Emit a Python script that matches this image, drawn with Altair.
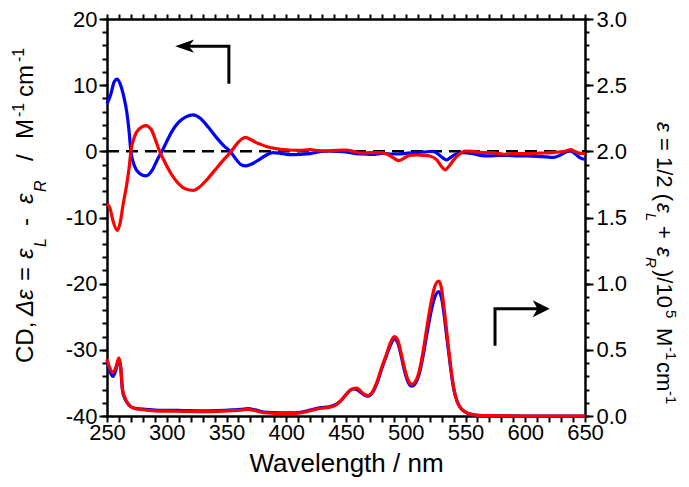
import altair as alt
import pandas as pd

# ---------------- data ----------------
cd_blue_wl = [250, 253, 256, 258.5, 261, 264, 266.5, 268.5, 270, 273, 277, 282.5, 288, 292, 296, 300, 305, 310, 316, 322,
              328, 335, 342, 348, 353, 358, 362, 366, 370, 376, 382, 389, 395, 400, 405, 412, 420, 427, 434, 442,
              450, 458, 465, 472, 480, 487, 494, 500, 508, 515, 523, 527, 531, 534, 537, 541, 548, 555, 562, 570,
              578, 586, 594, 602, 610, 618, 624, 630, 634, 638, 642, 646, 650]
cd_blue = [7.2, 8.5, 10.5, 10.9, 10.2, 8.3, 6.0, 3.0, 0.0, -2.2, -3.3, -3.7, -2.8, -1.3, 0.0, 1.5, 3.2, 4.4, 5.2, 5.5,
           5.0, 3.6, 2.0, 0.8, 0.0, -1.2, -2.0, -2.2, -2.0, -1.4, -0.7, -0.2, -0.3, -0.45, -0.5, -0.45, -0.35, -0.1, 0.05, 0.0,
           -0.1, -0.35, -0.4, -0.45, -0.3, -0.4, -0.4, -0.3, -0.2, -0.1, 0.0, -0.4, -1.0, -1.3, -1.0, -0.5, -0.2, -0.3, -0.6, -0.7,
           -0.6, -0.6, -0.7, -0.7, -0.75, -0.85, -0.9, -0.5, -0.1, 0.05, -0.4, -1.0, -1.2]

cd_red_wl = [250, 252.5, 255, 258.5, 261, 263.5, 266.5, 268.5, 270, 273, 277, 282.5, 287, 291, 294, 298, 304, 310, 316, 322,
             328, 334, 340, 347, 354, 359, 363, 366, 370, 374, 378, 384, 390, 395, 402, 411, 420, 427, 434, 442,
             450, 456, 462, 470, 478, 484, 489, 494, 498, 503, 509, 515, 520, 526, 530, 533, 536, 540, 545, 550,
             556, 562, 570, 577, 584, 590, 596, 601, 608, 615, 622, 628, 634, 638, 642, 646, 650]
cd_red = [-7.9, -8.6, -10.5, -11.95, -10.8, -8.0, -5.0, -2.5, 0.0, 2.2, 3.4, 3.9, 3.3, 1.5, 0.0, -1.5, -3.5, -4.9, -5.7, -5.9,
          -5.3, -4.2, -2.9, -1.4, 0.0, 1.2, 1.9, 2.1, 1.8, 1.4, 1.1, 0.7, 0.45, 0.3, 0.2, 0.15, 0.25, 0.1, 0.05, 0.15,
          0.2, 0.0, -0.25, -0.2, -0.2, -0.4, -0.9, -1.4, -1.1, -0.6, -0.55, -0.6, -0.7, -1.3, -2.3, -2.8, -2.3, -1.3, -0.4, 0.05,
          0.0, -0.15, -0.2, -0.3, -0.45, -0.3, -0.35, -0.35, -0.3, -0.25, -0.2, -0.1, 0.05, 0.25, -0.05, -0.3, -0.3]

abs_wl = [250, 252, 255, 257.5, 260, 261.5, 263, 265, 267, 270, 274, 283, 293, 300, 314, 330, 342, 355, 362, 368,
          374, 381, 390, 398, 405, 413, 420, 428, 436, 441, 445, 449, 453, 456, 459, 462, 465, 468.5, 472, 476,
          480, 484, 487, 490.5, 493, 496, 499, 502, 505, 508, 511, 514, 517.5, 521, 524, 527.5, 530, 532, 534, 537,
          540, 543, 546, 550, 555, 560, 570, 600, 650]
abs_blue = [0.42, 0.35, 0.30, 0.35, 0.43, 0.36, 0.19, 0.13, 0.10, 0.07, 0.058, 0.05, 0.043, 0.043, 0.041, 0.039, 0.041, 0.046, 0.05, 0.056,
            0.046, 0.03, 0.025, 0.023, 0.023, 0.03, 0.045, 0.062, 0.07, 0.085, 0.11, 0.15, 0.19, 0.205, 0.20, 0.18, 0.16, 0.15, 0.175, 0.25,
            0.36, 0.46, 0.53, 0.58, 0.56, 0.46, 0.34, 0.255, 0.225, 0.245, 0.31, 0.43, 0.61, 0.78, 0.89, 0.94, 0.89, 0.77, 0.62, 0.40,
            0.21, 0.11, 0.06, 0.03, 0.012, 0.005, 0.002, 0.0, 0.0]
abs_red = [0.43, 0.37, 0.33, 0.37, 0.44, 0.37, 0.20, 0.14, 0.10, 0.07, 0.055, 0.045, 0.037, 0.037, 0.035, 0.033, 0.035, 0.04, 0.045, 0.05,
           0.04, 0.025, 0.02, 0.018, 0.018, 0.025, 0.04, 0.057, 0.065, 0.08, 0.11, 0.15, 0.19, 0.205, 0.21, 0.19, 0.165, 0.155, 0.18, 0.26,
           0.37, 0.47, 0.55, 0.60, 0.58, 0.48, 0.36, 0.27, 0.24, 0.26, 0.33, 0.46, 0.66, 0.85, 0.97, 1.02, 0.96, 0.82, 0.66, 0.42,
           0.22, 0.11, 0.06, 0.03, 0.012, 0.005, 0.002, 0.0, 0.0]

x_ticks = list(range(250, 651, 10))
left_major = list(range(-40, 21, 10))
left_minor = list(range(-40, 21, 2))
right_major = [0.0, 0.5, 1.0, 1.5, 2.0, 2.5, 3.0]
right_minor = [round(i * 0.1, 1) for i in range(31)]

# arrow annotations (data coordinates)
arrow_left_wl = [352.0, 352.0, 312.0]
arrow_left_cd = [10.2, 15.9, 15.9]
arrow_left_tip = (307.0, 15.9)
arrow_right_wl = [574.7, 574.7, 614.0]
arrow_right_eps = [0.53, 0.81, 0.81]
arrow_right_tip = (620.5, 0.81)

# rich axis titles, pieces: (text, x, y, size, italic) in page pixels
left_title = [
    ("CD,", 33, 363, 24, False),
    ("Δε", 33, 316, 24, True),
    ("=", 33, 281, 24, False),
    ("ε", 33, 259, 24, True),
    ("L", 46, 247, 16, True),
    ("-", 33, 226, 24, False),
    ("ε", 33, 204, 24, True),
    ("R", 46, 192, 16, True),
    ("/", 33, 161, 24, False),
    ("M", 33, 139, 24, False),
    ("-1", 24, 117, 16, False),
    ("cm", 33, 97, 24, False),
    ("-1", 24, 62, 16, False),
]
right_title = [
    ("ε", 657, 122, 22, True),
    ("= 1/2 (", 657, 138, 22, False),
    ("ε", 657, 203, 22, True),
    ("L", 646, 213, 15, True),
    ("+", 657, 226, 22, False),
    ("ε", 657, 247, 22, True),
    ("R", 646, 257, 15, True),
    (")/10", 657, 270, 22, False),
    ("5", 666, 310, 15, False),
    ("M", 657, 328, 22, False),
    ("-1", 666, 347, 15, False),
    ("cm", 657, 362, 22, False),
    ("-1", 666, 391, 15, False),
]

# ---------------- chart ----------------
X0, Y0 = 107, 19          # page position of the plot area's top-left corner
W, H = 478, 397
FONT = "Liberation Sans"
BLUE, RED = "#0000ff", "#ff0000"

xs = alt.Scale(domain=[250, 650], nice=False, zero=False)
yl = alt.Scale(domain=[-40, 20], nice=False, zero=False)
yr = alt.Scale(domain=[0, 3], nice=False, zero=False)

common = dict(grid=False, domainColor="black", domainWidth=2.5, domainCap="square",
              tickColor="black", tickWidth=2, labelFont=FONT, labelColor="black")

x_bottom = alt.Axis(orient="bottom", values=x_ticks, tickSize=6, labelFontSize=22, labelPadding=0,
                    labelOverlap=False, labelFlush=False,
                    labelExpr="datum.value % 50 === 0 ? '' + datum.value : ''",
                    title="Wavelength / nm", titleFont=FONT, titleFontSize=26, titleFontWeight="normal",
                    titleColor="black", titlePadding=7, **common)
x_top = alt.Axis(orient="top", values=x_ticks, tickSize=5, labels=False, title=None, **common)
y_left = alt.Axis(orient="left", values=left_major, tickSize=8, labelFontSize=22, labelPadding=2,
                  labelOverlap=False, labelFlush=False, labelExpr="'' + datum.value", title=None, **common)
y_left_minor = alt.Axis(orient="left", values=left_minor, tickSize=5, labels=False, domain=False, title=None,
                        grid=False, tickColor="black", tickWidth=2)
y_right = alt.Axis(orient="right", values=right_major, tickSize=8, labelFontSize=22, labelPadding=3,
                   labelOverlap=False, labelFlush=False, format=".1f", title=None, **common)
y_right_minor = alt.Axis(orient="right", values=right_minor, tickSize=4, labels=False, domain=False, title=None,
                         grid=False, tickColor="black", tickWidth=2)


def line_layer(wl, vals, color, yscale, xaxis=None, yaxis=None):
    df = pd.DataFrame({"wl": wl, "v": vals})
    return alt.Chart(df).mark_line(color=color, strokeWidth=3.2, interpolate="monotone").encode(
        x=alt.X("wl:Q", scale=xs, axis=xaxis),
        y=alt.Y("v:Q", scale=yscale, axis=yaxis),
    )


def invisible_axis(yvals, yscale, yaxis):
    df = pd.DataFrame({"wl": [250, 650], "v": [yvals[0], yvals[-1]]})
    return alt.Chart(df).mark_point(opacity=0).encode(
        x=alt.X("wl:Q", scale=xs, axis=None),
        y=alt.Y("v:Q", scale=yscale, axis=yaxis),
    )


def text_layer(t, xp, yp, size, italic, angle):
    props = dict(angle=angle, align="left", baseline="alphabetic", font=FONT, fontSize=size, color="black")
    if italic:
        props["fontStyle"] = "italic"
    return alt.Chart(pd.DataFrame({"t": [t]})).mark_text(**props).encode(
        x=alt.value(xp - X0), y=alt.value(yp - Y0), text="t:N")


def arrow_layers(wl, vals, tip, yscale, path, size):
    df = pd.DataFrame({"wl": wl, "v": vals, "o": list(range(len(wl)))})
    shaft = alt.Chart(df).mark_line(color="black", strokeWidth=3, strokeJoin="miter", strokeCap="butt").encode(
        x=alt.X("wl:Q", scale=xs, axis=None),
        y=alt.Y("v:Q", scale=yscale, axis=None),
        order="o:Q",
    )
    head = alt.Chart(pd.DataFrame({"wl": [tip[0]], "v": [tip[1]]})).mark_point(
        shape=path, filled=True, color="black", opacity=1, size=size
    ).encode(
        x=alt.X("wl:Q", scale=xs, axis=None),
        y=alt.Y("v:Q", scale=yscale, axis=None),
    )
    return [shaft, head]


zero_rule = alt.Chart(pd.DataFrame({"a": [250], "b": [650], "v": [0]})).mark_rule(
    color="black", strokeWidth=2.5, strokeDash=[12, 7]
).encode(
    x=alt.X("a:Q", scale=xs, axis=None),
    x2="b:Q",
    y=alt.Y("v:Q", scale=yl, axis=None),
)

layers = [
    zero_rule,
    line_layer(cd_blue_wl, cd_blue, BLUE, yl, x_bottom, y_left),
    line_layer(cd_red_wl, cd_red, RED, yl),
    line_layer(abs_wl, abs_blue, BLUE, yr, x_top, y_right),
    line_layer(abs_wl, abs_red, RED, yr),
    invisible_axis(left_minor, yl, y_left_minor),
    invisible_axis(right_minor, yr, y_right_minor),
]
layers += arrow_layers(arrow_left_wl, arrow_left_cd, arrow_left_tip, yl, "M0,0L2,-0.7L1.45,0L2,0.7Z", 361)
layers += arrow_layers(arrow_right_wl, arrow_right_eps, arrow_right_tip, yr, "M0,0L-2,-1L-1.45,0L-2,1Z", 289)
for t, xp, yp, s, it in left_title:
    layers.append(text_layer(t, xp, yp, s, it, 270))
for t, xp, yp, s, it in right_title:
    layers.append(text_layer(t, xp, yp, s, it, 90))

chart = alt.layer(*layers).resolve_scale(
    x="independent", y="independent"
).resolve_axis(
    x="independent", y="independent"
).properties(
    width=W, height=H,
    padding={"left": X0 - 8, "top": Y0 - 8, "right": 673 - (X0 - 8) - W, "bottom": 471 - (Y0 - 8) - H},
    autosize=alt.AutoSizeParams(type="none"),
    background="white",
).configure_view(strokeWidth=0)

chart.save("out.html", embed_options={"renderer": "svg", "actions": False})
